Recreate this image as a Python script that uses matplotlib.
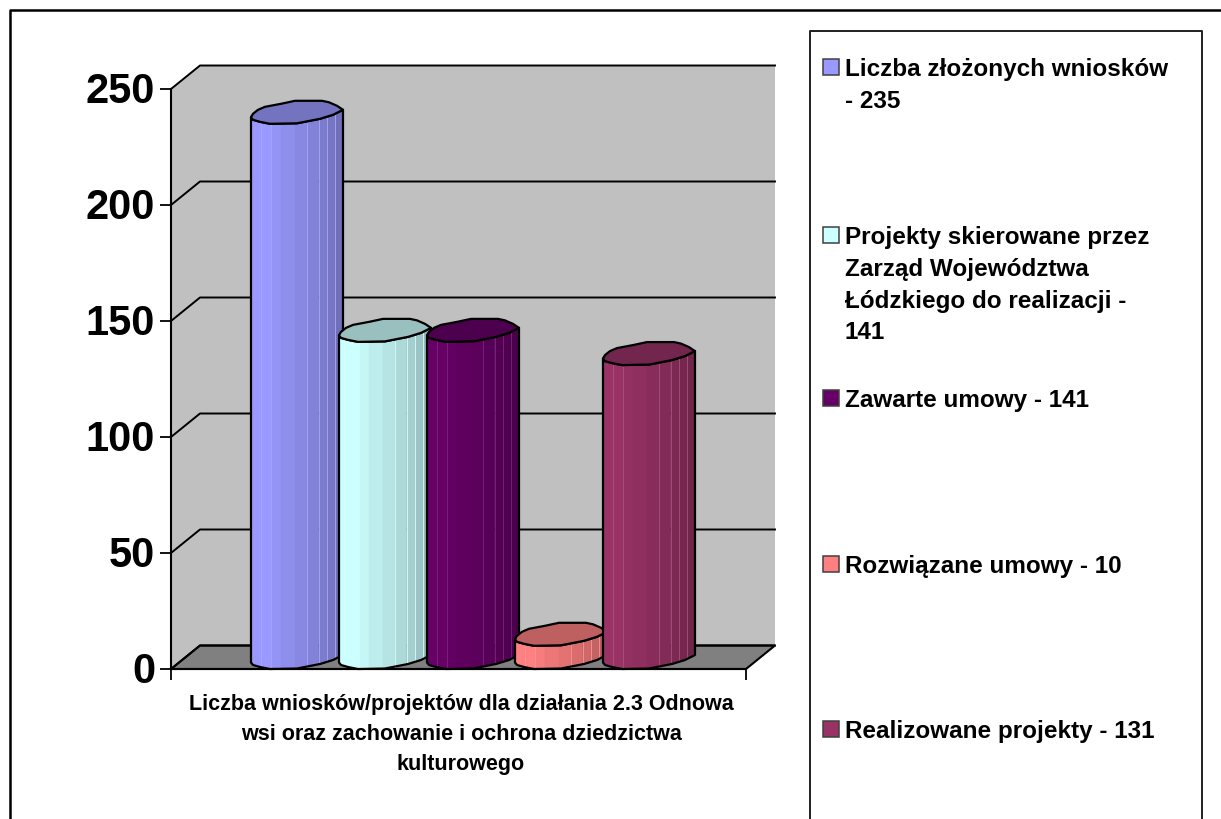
import numpy as np
import matplotlib
matplotlib.use('Agg')
import matplotlib.pyplot as plt
from matplotlib.patches import Polygon, Rectangle
from matplotlib.lines import Line2D
from matplotlib.colors import to_rgb
from matplotlib.transforms import ScaledTranslation

# dane
values = [235, 141, 141, 10, 131]
colors = ['#9999FF', '#CCFFFF', '#660066', '#FF8080', '#993366']
legend_labels = ['Liczba złożonych wniosków\n- 235',
                 'Projekty skierowane przez\nZarząd Województwa\nŁódzkiego do realizacji -\n141',
                 'Zawarte umowy - 141',
                 'Rozwiązane umowy - 10',
                 'Realizowane projekty - 131']
yticks = [0, 50, 100, 150, 200, 250]
xlabel = 'Liczba wniosków/projektów dla działania 2.3 Odnowa\nwsi oraz zachowanie i ochrona dziedzictwa\nkulturowego'

W, H = 1221, 820
L, R, T, B = 171, 746, 90, 670   # front plane in pixels
DX, DY = 29, 23.5                # depth of the 3d box
STEP = 88                        # px between bars
FIRST = 251                      # left side of first bar
SY = (B - T) / 250

plt.rcParams['font.family'] = ['Liberation Sans', 'DejaVu Sans']
plt.rcParams['font.weight'] = 'bold'

fig = plt.figure(figsize=(W / 100, H / 100), dpi=100)
ax = fig.add_axes([L / W, 1 - B / H, (R - L) / W, (B - T) / H])
ax.set_xlim(L, R)
ax.set_ylim(0, 250)
ax.set_facecolor('none')

# walls
dy = DY / SY
ax.add_patch(Polygon([(L, 0), (L + DX, dy), (R + DX, dy), (R + DX, 250 + dy), (L + DX, 250 + dy), (L, 250)],
                     fc='#C0C0C0', ec='none', clip_on=False, zorder=0))
ax.add_patch(Polygon([(L, 0), (R, 0), (R + DX, dy), (L + DX, dy)],
                     fc='#808080', ec='black', lw=1.5, clip_on=False, zorder=1))
for t in yticks:
    ax.plot([L, L + DX, R + DX], [t, t + dy, t + dy], color='black', lw=1.4, clip_on=False, zorder=1)

# cylinder outline, pixel offsets from left side / value level
upper_x = [0, 0.8, 2, 7, 14, 30, 44, 71, 78, 86, 92]
upper_y = [6.5, 8, 10, 14, 17, 20, 23, 23, 21.5, 18, 14]
lower_x = [0, 2, 9, 19, 46, 69, 82, 92]
lower_y = [6.5, 4, 2, 0, 0.5, 5, 9, 14]
bands = [0, 10, 20, 30, 44, 56, 67.5, 76, 84, 92]
shade = [1.0, 1.0, 0.97, 0.93, 0.89, 0.85, 0.81, 0.77, 0.73]
light = [10, 20, 56, 67.5, 76, 84]


def arc(x):
    return np.interp(x, lower_x, lower_y) / SY


for i, (val, col) in enumerate(zip(values, colors)):
    x0 = FIRST + i * STEP
    z = 3 + i
    rgb = np.array(to_rgb(col))
    for j in range(len(bands) - 1):
        xs = np.array(sorted(set([bands[j], bands[j + 1]] + [p for p in lower_x if bands[j] < p < bands[j + 1]])))
        top = val + arc(xs)
        bot = arc(xs)
        pts = list(zip(x0 + xs, top)) + list(zip(x0 + xs[::-1], bot[::-1]))
        ax.add_patch(Polygon(pts, fc=rgb * shade[j], ec=rgb * shade[j], lw=0.3, clip_on=False, zorder=z))
    for b in light:
        ax.plot([x0 + b, x0 + b], [val + arc(b), arc(b)], color=np.minimum(rgb * 0.85 + 0.15, 1), lw=0.6,
                clip_on=False, zorder=z)
    # outline of the body
    lx = np.array(lower_x)
    body = [(x0 + a, val + arc(a)) for a in lx] + [(x0 + a, arc(a)) for a in lx[::-1]]
    ax.add_patch(Polygon(body, fc='none', ec='black', lw=1.6, joinstyle='round', clip_on=False, zorder=z))
    # top
    ux = np.array(upper_x)
    uy = np.array(upper_y) / SY
    cap = [(x0 + a, val + b) for a, b in zip(ux, uy)] + [(x0 + a, val + arc(a)) for a in lx[::-1]]
    ax.add_patch(Polygon(cap, fc=rgb * 0.75, ec='black', lw=1.6, joinstyle='round', clip_on=False, zorder=z))

# axes
for s in ['top', 'right']:
    ax.spines[s].set_visible(False)
for s in ['left', 'bottom']:
    ax.spines[s].set_linewidth(1.5)
ax.set_yticks(yticks)
ax.set_yticklabels([str(t) for t in yticks], fontsize=30, fontweight='bold')
ax.tick_params(axis='y', length=8, width=1.3, pad=3.5)
for lab in ax.get_yticklabels():
    lab.set_transform(lab.get_transform() + ScaledTranslation(0, 2.5 / 100, fig.dpi_scale_trans))
ax.set_xticks([L, R])
ax.set_xticklabels(['', ''])
ax.tick_params(axis='x', length=8, width=1.3)
ax.set_xlabel(xlabel, fontsize=15.5, fontweight='bold', linespacing=1.57)
ax.xaxis.set_label_coords((461 - L) / (R - L), -24 / (B - T), transform=ax.transAxes)
ax.xaxis.label.set_va('top')


def fx(px):
    return px / W


def fy(py):
    return 1 - py / H


# outer frame, runs off the bottom
fig.add_artist(Line2D([fx(10), fx(10), 1], [0, fy(11), fy(11)], color='black', lw=1.8))

# legend box
fig.add_artist(Line2D([fx(810), fx(810), fx(1202), fx(1202)], [0, fy(32), fy(32), 0], color='#202020', lw=1.4))
legend_y = [58, 226, 389, 555, 720]
for lab, col, py in zip(legend_labels, colors, legend_y):
    fig.add_artist(Rectangle((fx(823), fy(py + 18)), 16 / W, 16 / H, transform=fig.transFigure,
                             fc=col, ec='#404040', lw=1.1))
    fig.text(fx(845), fy(py), lab, fontsize=17.5, fontweight='bold', va='top', ha='left', linespacing=1.49)

fig.savefig('out.png', dpi=100)
